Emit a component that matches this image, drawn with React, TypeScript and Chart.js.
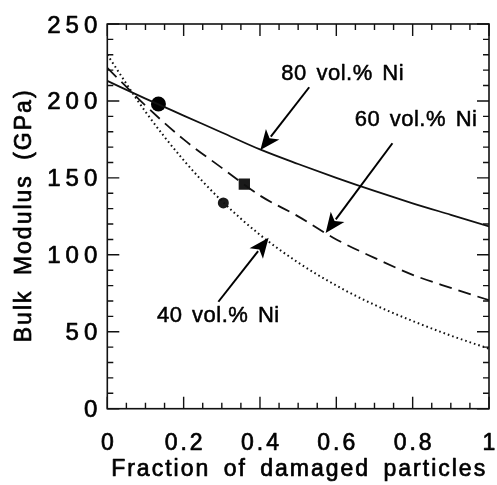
import React, { useEffect, useRef } from "react";
import { Chart, registerables } from "chart.js";

Chart.register(...registerables);

// Fraction of damaged particles (x) and bulk modulus in GPa for each Ni content
const fraction = [0, 0.1, 0.2, 0.3, 0.4, 0.5, 0.6, 0.7, 0.8, 0.9, 1.0];
const ni80 = [213, 201.5, 190.5, 179.5, 168.5, 159, 150, 141.5, 133.5, 126, 118.5];
const ni60 = [221.5, 197, 175, 156.5, 138.5, 125, 110, 98, 87, 78.5, 70.5];
const ni40 = [230, 193, 161.5, 135, 113, 95, 80, 67.5, 57, 47.5, 39];

// Measured points
const circleX = [0.134];
const circleY = [198];
const squareX = [0.359];
const squareY = [146];
const blobX = [0.304];
const blobY = [133.7];

// Axes
const xTicks = [0, 0.2, 0.4, 0.6, 0.8, 1];
const xTickLabels = ["0", "0.2", "0.4", "0.6", "0.8", "1"];
const yTicks = [0, 50, 100, 150, 200, 250];
const yTickLabels = ["0", "50", "100", "150", "200", "250"];
const xTitle = "Fraction of damaged particles";
const yTitle = "Bulk Modulus (GPa)";

// Curve labels with their arrows (label left/middle, arrow tail, arrow tip) in data units
const labelTexts = ["80 vol.% Ni", "60 vol.% Ni", "40 vol.% Ni"];
const labelPos = [
  [0.456, 218.8],
  [0.648, 188.9],
  [0.13, 61.5],
];
const arrowTail = [
  [0.529, 208.9],
  [0.747, 172.5],
  [0.291, 69.5],
];
const arrowTip = [
  [0.401, 168.1],
  [0.572, 114.2],
  [0.4226, 111.1],
];

const INK = "#111";
const FONT = '"Liberation Sans", Arial, Helvetica, sans-serif';

function pts(xs: number[], ys: number[]) {
  return xs.map((x, i) => ({ x, y: ys[i] }));
}

function spacedText(
  ctx: CanvasRenderingContext2D,
  s: string,
  x: number,
  y: number,
  align: "left" | "center" | "right",
  spacing: number,
  wordSpacing = 0
) {
  (ctx as any).letterSpacing = spacing + "px";
  (ctx as any).wordSpacing = wordSpacing + "px";
  ctx.textAlign = "left";
  const w = ctx.measureText(s).width - spacing;
  let x0 = x;
  if (align === "center") x0 = x - w / 2;
  else if (align === "right") x0 = x - w;
  ctx.fillText(s, x0, y);
  // a hairline outline gives the type a slightly heavier print weight
  ctx.strokeText(s, x0, y);
  (ctx as any).letterSpacing = "0px";
  (ctx as any).wordSpacing = "0px";
}

const framePlugin = {
  id: "frameDecor",
  afterDatasetsDraw(chart: any) {
    const { ctx, chartArea: a, scales } = chart;
    const xs = scales.x;
    const ys = scales.y;
    ctx.save();

    // frame
    ctx.strokeStyle = INK;
    ctx.lineWidth = 1.6;
    ctx.strokeRect(a.left, a.top, a.right - a.left, a.bottom - a.top);

    // inward ticks on all four sides
    ctx.beginPath();
    ctx.lineWidth = 1.4;
    for (let i = 0; i <= 20; i++) {
      const px = xs.getPixelForValue(i * 0.05);
      const len = i % 4 === 0 ? 12 : 6;
      ctx.moveTo(px, a.bottom);
      ctx.lineTo(px, a.bottom - len);
      ctx.moveTo(px, a.top);
      ctx.lineTo(px, a.top + len);
    }
    for (let i = 0; i <= 25; i++) {
      const py = ys.getPixelForValue(i * 10);
      const len = i % 5 === 0 ? 12 : 6;
      ctx.moveTo(a.left, py);
      ctx.lineTo(a.left + len, py);
      ctx.moveTo(a.right, py);
      ctx.lineTo(a.right - len, py);
    }
    ctx.stroke();

    // tick labels
    ctx.fillStyle = "#000";
    ctx.strokeStyle = "#000";
    ctx.lineWidth = 0.7;
    ctx.lineJoin = "round";
    ctx.textBaseline = "alphabetic";
    ctx.font = `23px ${FONT}`;
    xTicks.forEach((v, i) => {
      spacedText(ctx, xTickLabels[i], xs.getPixelForValue(v), a.bottom + 41, "center", 3);
    });
    ctx.font = `24px ${FONT}`;
    yTicks.forEach((v, i) => {
      spacedText(ctx, yTickLabels[i], a.left - 10, ys.getPixelForValue(v) + 8.5, "right", 5);
    });

    // axis titles
    ctx.font = `23px ${FONT}`;
    spacedText(ctx, xTitle, (a.left + a.right) / 2, a.bottom + 67, "center", 2, 5);
    ctx.save();
    ctx.translate(31, (a.top + a.bottom) / 2);
    ctx.rotate(-Math.PI / 2);
    spacedText(ctx, yTitle, 0, 0, "center", 2, 6);
    ctx.restore();

    // curve labels
    ctx.font = `22px ${FONT}`;
    ctx.lineWidth = 0.5;
    labelTexts.forEach((s, i) => {
      const lx = xs.getPixelForValue(labelPos[i][0]);
      const ly = ys.getPixelForValue(labelPos[i][1]);
      spacedText(ctx, s, lx, ly + 8, "left", 0.5, 3);
    });

    // arrows
    ctx.strokeStyle = "#000";
    ctx.fillStyle = "#000";
    ctx.lineWidth = 2;
    arrowTail.forEach((t, i) => {
      const x1 = xs.getPixelForValue(t[0]);
      const y1 = ys.getPixelForValue(t[1]);
      const x2 = xs.getPixelForValue(arrowTip[i][0]);
      const y2 = ys.getPixelForValue(arrowTip[i][1]);
      const ang = Math.atan2(y2 - y1, x2 - x1);
      const headLen = 20;
      const headW = 8.5;
      const bx = x2 - headLen * Math.cos(ang);
      const by = y2 - headLen * Math.sin(ang);
      ctx.beginPath();
      ctx.moveTo(x1, y1);
      ctx.lineTo(bx + 3 * Math.cos(ang), by + 3 * Math.sin(ang));
      ctx.stroke();
      ctx.beginPath();
      ctx.moveTo(x2, y2);
      ctx.lineTo(bx - headW * Math.sin(ang), by + headW * Math.cos(ang));
      ctx.lineTo(bx + 5 * Math.cos(ang), by + 5 * Math.sin(ang));
      ctx.lineTo(bx + headW * Math.sin(ang), by - headW * Math.cos(ang));
      ctx.closePath();
      ctx.fill();
    });

    ctx.restore();
  },
};

export default function App() {
  const canvasRef = useRef<HTMLCanvasElement | null>(null);

  useEffect(() => {
    const canvas = canvasRef.current;
    if (!canvas) return;
    const chart = new Chart(canvas, {
      type: "scatter",
      data: {
        datasets: [
          {
            label: "80 vol.% Ni",
            data: pts(fraction, ni80),
            showLine: true,
            borderColor: INK,
            borderWidth: 1.8,
            pointRadius: 0,
            cubicInterpolationMode: "monotone",
          },
          {
            label: "60 vol.% Ni",
            data: pts(fraction, ni60),
            showLine: true,
            borderColor: INK,
            borderWidth: 1.8,
            borderDash: [13, 7],
            pointRadius: 0,
            cubicInterpolationMode: "monotone",
          },
          {
            label: "40 vol.% Ni",
            data: pts(fraction, ni40),
            showLine: true,
            borderColor: INK,
            borderWidth: 2,
            borderDash: [1.6, 3],
            pointRadius: 0,
            cubicInterpolationMode: "monotone",
          },
          {
            label: "80 measured",
            data: pts(circleX, circleY),
            pointStyle: "circle",
            pointRadius: 7.5,
            backgroundColor: "#000",
            borderColor: "#000",
            borderWidth: 0,
          },
          {
            label: "60 measured",
            data: pts(squareX, squareY),
            pointStyle: "rect",
            pointRadius: 8,
            backgroundColor: "#1a1a1a",
            borderColor: "#1a1a1a",
            borderWidth: 0,
          },
          {
            label: "40 measured",
            data: pts(blobX, blobY),
            pointStyle: "circle",
            pointRadius: 5.5,
            backgroundColor: "#1a1a1a",
            borderColor: "#1a1a1a",
            borderWidth: 0,
          },
        ],
      },
      options: {
        responsive: false,
        animation: false,
        layout: { padding: { left: 107.3, top: 24, right: 4.7, bottom: 76.3 } },
        plugins: { legend: { display: false }, tooltip: { enabled: false } },
        scales: {
          x: { type: "linear", min: 0, max: 1, display: false },
          y: { type: "linear", min: 0, max: 250, display: false },
        },
      },
      plugins: [framePlugin],
    });
    return () => chart.destroy();
  }, []);

  return (
    <div style={{ position: "absolute", left: 0, top: 0, width: 497, height: 485, background: "#fff" }}>
      <canvas ref={canvasRef} width={497} height={485} style={{ display: "block" }} />
    </div>
  );
}
